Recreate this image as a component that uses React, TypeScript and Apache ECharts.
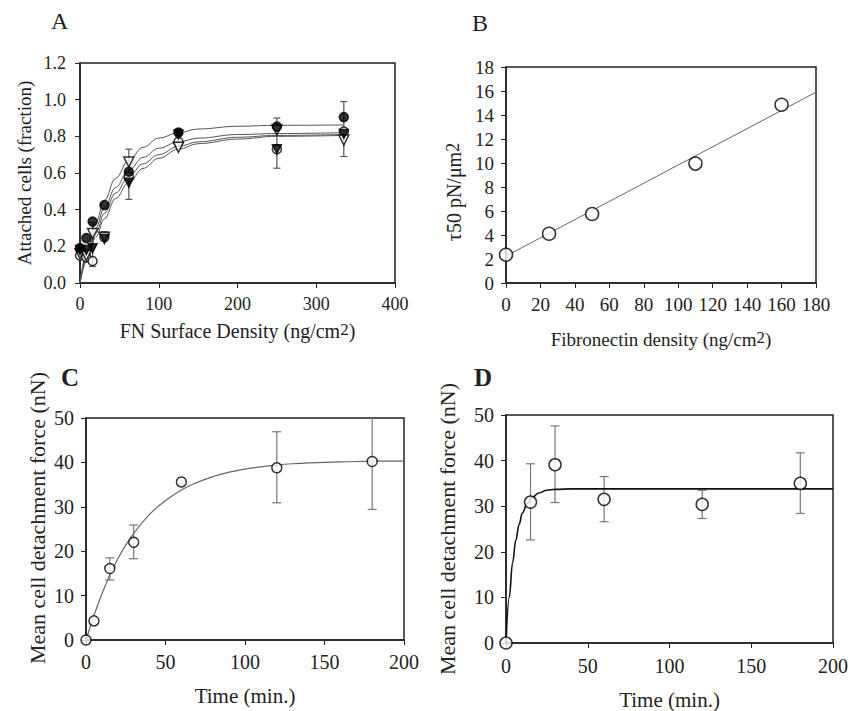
import React, { useEffect, useRef } from "react";
import * as echarts from "echarts";

// ---------- Panel A ----------
const aX = [0, 8, 16, 31, 62, 125, 250, 335];
const aFilledCircle = [0.19, 0.245, 0.335, 0.425, 0.607, 0.82, 0.853, 0.905];
const aOpenTriangle = [0.16, 0.15, 0.27, 0.25, 0.66, 0.74, 0.835, 0.78];
const aFilledTriangle = [0.18, 0.18, 0.19, 0.24, 0.547, 0.81, 0.73, 0.813];
const aOpenCircle = [0.15, 0.14, 0.12, 0.25, 0.58, 0.77, 0.73, 0.826];
const aErrX = [16, 31, 62, 125, 250, 335];
const aErrLow = [0.09, 0.24, 0.456, 0.76, 0.626, 0.69];
const aErrHigh = [0.33, 0.28, 0.73, 0.84, 0.9, 0.99];
const aCurveX = [0, 10, 20, 31, 45, 62, 80, 100, 125, 150, 200, 250, 335];
const aCurve1 = [0, 0.19, 0.33, 0.45, 0.57, 0.67, 0.74, 0.79, 0.82, 0.84, 0.855, 0.86, 0.862];
const aCurve2 = [0, 0.17, 0.3, 0.41, 0.52, 0.616, 0.685, 0.735, 0.77, 0.79, 0.81, 0.815, 0.82];
const aCurve3 = [0, 0.15, 0.27, 0.38, 0.49, 0.58, 0.65, 0.7, 0.745, 0.77, 0.795, 0.805, 0.81];
const aCurve4 = [0, 0.135, 0.25, 0.35, 0.46, 0.55, 0.625, 0.68, 0.73, 0.76, 0.785, 0.8, 0.805];

// ---------- Panel B ----------
const bX = [0, 25, 50, 110, 160];
const bY = [2.35, 4.1, 5.75, 9.95, 14.85];
const bFitX = [0, 180];
const bFitY = [2.25, 15.9];

// ---------- Panel C ----------
const cX = [0, 5, 15, 30, 60, 120, 180];
const cY = [0, 4.3, 16.1, 22, 35.6, 38.8, 40.2];
const cErrX = [15, 30, 120, 180];
const cErrLow = [13.5, 18.3, 30.9, 29.4];
const cErrHigh = [18.5, 25.9, 46.9, 52];
const cCurveX = [0, 10, 20, 30, 40, 50, 60, 70, 80, 90, 100, 110, 120, 130, 140, 150, 160, 170, 180, 190, 200];
const cCurveY = [0, 10.4, 18.3, 24, 28.3, 31.4, 33.8, 35.5, 36.8, 37.8, 38.5, 39, 39.4, 39.7, 39.9, 40, 40.1, 40.2, 40.25, 40.3, 40.3];

// ---------- Panel D ----------
const dX = [0, 15, 30, 60, 120, 180];
const dY = [0, 30.9, 39.1, 31.5, 30.4, 35];
const dErrX = [15, 30, 60, 120, 180];
const dErrLow = [22.6, 30.8, 26.6, 27.3, 28.4];
const dErrHigh = [39.3, 47.6, 36.5, 33.5, 41.7];
const dCurveX = [0, 2, 4, 6, 8, 10, 13, 16, 20, 25, 30, 40, 200];
const dCurveY = [0, 10, 17.5, 22.5, 26, 28.5, 30.6, 31.9, 32.9, 33.5, 33.7, 33.8, 33.8];

const SERIF = "Liberation Serif";
const TXT = "#222";

const zip = (xs: number[], ys: number[]) => xs.map((x, i) => [x, ys[i]]);
const zip3 = (xs: number[], lo: number[], hi: number[]) => xs.map((x, i) => [x, lo[i], hi[i]]);

function errorSeries(idx: number, data: number[][], cap: number, color: string) {
  return {
    type: "custom",
    xAxisIndex: idx,
    yAxisIndex: idx,
    clip: true,
    z: 1,
    silent: true,
    encode: { x: 0, y: [1, 2] },
    data,
    renderItem: (_p: any, api: any) => {
      const x = api.value(0);
      const lo = api.value(1);
      const hi = api.value(2);
      const a = api.coord([x, hi]);
      const b = api.coord([x, lo]);
      const style = { stroke: color, lineWidth: 1.2 };
      return {
        type: "group",
        children: [
          { type: "line", shape: { x1: a[0], y1: a[1], x2: b[0], y2: b[1] }, style },
          { type: "line", shape: { x1: a[0] - cap, y1: a[1], x2: a[0] + cap, y2: a[1] }, style },
          { type: "line", shape: { x1: b[0] - cap, y1: b[1], x2: b[0] + cap, y2: b[1] }, style },
        ],
      };
    },
  };
}

function curve(idx: number, data: number[][], color: string, width: number, smooth: any = 0.4, monotone: any = "x") {
  return {
    type: "line",
    xAxisIndex: idx,
    yAxisIndex: idx,
    data,
    showSymbol: false,
    symbol: "none",
    smooth,
    smoothMonotone: monotone,
    lineStyle: { color, width },
    z: 2,
    silent: true,
  };
}

function scatter(idx: number, data: number[][], size: number, filled: boolean, symbol = "circle", rotate = 0) {
  return {
    type: "scatter",
    xAxisIndex: idx,
    yAxisIndex: idx,
    data,
    symbol,
    symbolRotate: rotate,
    symbolSize: size,
    itemStyle: {
      color: filled ? "#000" : "#fff",
      borderColor: "#000",
      borderWidth: 1.5,
    },
    z: 3,
    silent: true,
  };
}

function xAxis(idx: number, max: number, interval: number, name: any, nameGap: number, fs: number, nfs: number, margin: number, rich: any = {}) {
  return {
    type: "value",
    gridIndex: idx,
    min: 0,
    max,
    interval,
    name,
    nameLocation: "middle",
    nameGap,
    nameTextStyle: { fontFamily: SERIF, fontSize: nfs, color: TXT, rich },
    axisLine: { show: true, lineStyle: { color: "#222", width: 1.5 } },
    axisTick: { show: true, length: 5, lineStyle: { color: "#222" } },
    axisLabel: { fontFamily: SERIF, fontSize: fs, color: TXT, margin },
    splitLine: { show: false },
  };
}

function yAxis(idx: number, max: number, interval: number, name: any, nameGap: number, fs: number, nfs: number, margin: number, dec: number, rich: any = {}, padding: any = 0) {
  return {
    type: "value",
    gridIndex: idx,
    min: 0,
    max,
    interval,
    name,
    nameLocation: "middle",
    nameGap,
    nameTextStyle: { fontFamily: SERIF, fontSize: nfs, color: TXT, rich, padding },
    axisLine: { show: true, lineStyle: { color: "#222", width: 1.5 } },
    axisTick: { show: true, length: 5, lineStyle: { color: "#222" } },
    axisLabel: {
      fontFamily: SERIF,
      fontSize: fs,
      color: TXT,
      margin,
      formatter: (v: number) => v.toFixed(dec),
    },
    splitLine: { show: false },
  };
}

export default function App() {
  const ref = useRef<HTMLDivElement>(null);
  useEffect(() => {
    if (!ref.current) return;
    const chart = echarts.init(ref.current, null, { renderer: "svg" });
    const gridStyle = { show: true, borderColor: "#222", borderWidth: 1.5, backgroundColor: "transparent" };
    const supA = { fontFamily: SERIF, fontSize: 17, verticalAlign: "top", lineHeight: 20, color: TXT };
    const option: any = {
      animation: false,
      backgroundColor: "#fff",
      grid: [
        { left: 80, top: 63, width: 315, height: 220, ...gridStyle },
        { left: 506, top: 67, width: 310, height: 216, ...gridStyle },
        { left: 86, top: 418, width: 318, height: 222, ...gridStyle },
        { left: 506, top: 415, width: 327, height: 229, ...gridStyle },
      ],
      xAxis: [
        xAxis(0, 400, 100, "FN Surface Density (ng/cm{sup|2})", 38, 18, 20, 12, { sup: supA }),
        xAxis(1, 180, 20, "Fibronectin density (ng/cm{sup|2})", 46, 19, 19, 12, { sup: supA }),
        xAxis(2, 200, 50, "Time (min.)", 45, 20, 21, 12),
        xAxis(3, 200, 50, "Time (min.)", 46, 20, 21, 13),
      ],
      yAxis: [
        yAxis(0, 1.2, 0.2, "Attached cells (fraction)", 46, 18, 19, 14, 1),
        yAxis(1, 18, 2, "τ50 pN/μm{sup|2}", 42, 19, 20, 12, 0, { sup: { fontFamily: SERIF, fontSize: 18, verticalAlign: "top", lineHeight: 20, color: TXT } }, [0, 34, 0, 0]),
        yAxis(2, 50, 10, "Mean cell detachment force (nN)", 38, 20, 22, 12, 0, {}, [0, 0, 0, 22]),
        yAxis(3, 50, 10, "Mean cell detachment force (nN)", 48, 20, 22, 12, 0),
      ],
      graphic: [
        { type: "text", left: 51, top: 9, style: { text: "A", fontFamily: SERIF, fontSize: 24, fill: TXT } },
        { type: "text", left: 472, top: 11, style: { text: "B", fontFamily: SERIF, fontSize: 24, fill: TXT } },
        { type: "text", left: 61, top: 365, style: { text: "C", fontFamily: SERIF, fontSize: 25, fontWeight: "bold", fill: TXT } },
        { type: "text", left: 474, top: 365, style: { text: "D", fontFamily: SERIF, fontSize: 25, fontWeight: "bold", fill: TXT } },
      ],
      series: [
        // A
        curve(0, zip(aCurveX, aCurve1), "#555", 1),
        curve(0, zip(aCurveX, aCurve2), "#555", 1),
        curve(0, zip(aCurveX, aCurve3), "#555", 1),
        curve(0, zip(aCurveX, aCurve4), "#555", 1),
        errorSeries(0, zip3(aErrX, aErrLow, aErrHigh), 3.5, "#555"),
        scatter(0, zip(aX, aOpenCircle), 9, false),
        scatter(0, zip(aX, aOpenTriangle), 10, false, "triangle", 180),
        scatter(0, zip(aX, aFilledTriangle), 9, true, "triangle", 180),
        scatter(0, zip(aX, aFilledCircle), 9, true),
        // B
        curve(1, zip(bFitX, bFitY), "#666", 1, false),
        scatter(1, zip(bX, bY), 13, false),
        // C
        errorSeries(2, zip3(cErrX, cErrLow, cErrHigh), 4.5, "#777"),
        curve(2, zip(cCurveX, cCurveY), "#666", 1.2, true, null),
        scatter(2, zip(cX, cY), 10, false),
        // D
        errorSeries(3, zip3(dErrX, dErrLow, dErrHigh), 4.5, "#777"),
        curve(3, zip(dCurveX, dCurveY), "#111", 1.6),
        scatter(3, zip(dX, dY), 12, false),
      ],
    };
    chart.setOption(option);
    return () => chart.dispose();
  }, []);
  return (
    <div
      ref={ref}
      style={{ position: "absolute", left: 0, top: 0, width: 851, height: 711, background: "#fff" }}
    />
  );
}
